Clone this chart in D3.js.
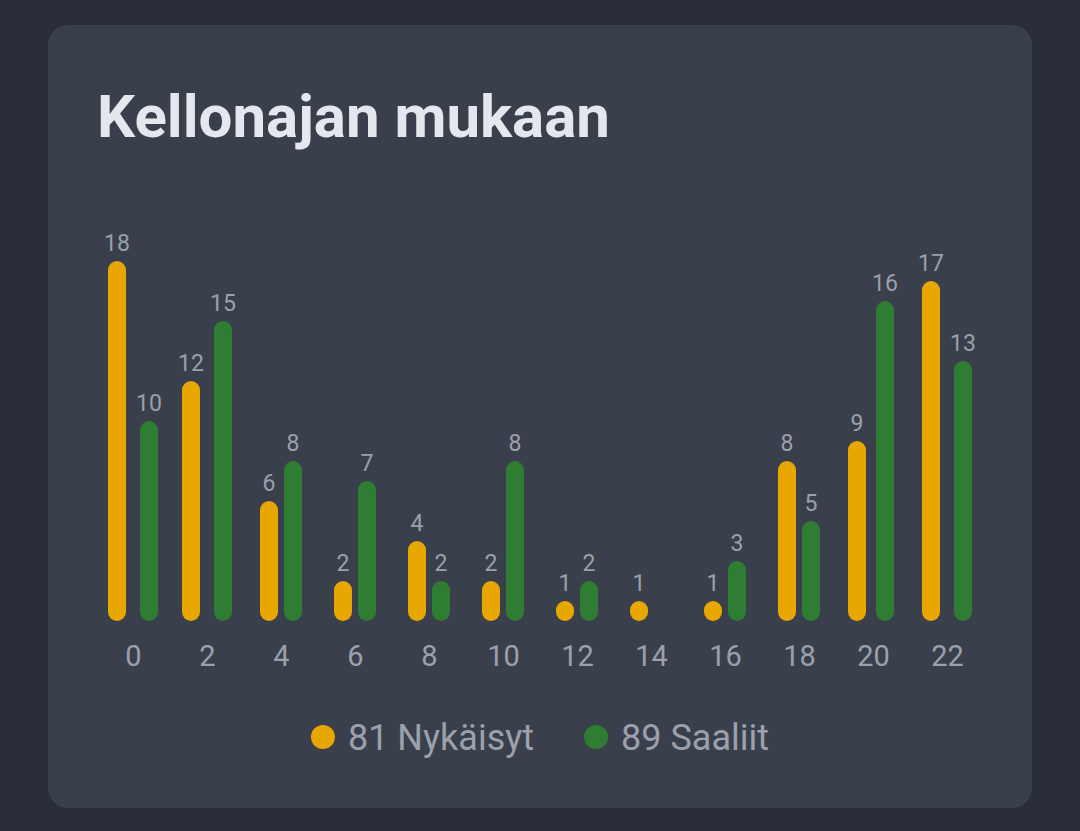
<!DOCTYPE html>
<html>
<head>
<meta charset="utf-8">
<script src="https://cdn.jsdelivr.net/npm/d3@7"></script>
<style>
  html, body { margin: 0; padding: 0; background: #2a2e39; }
  svg { display: block; font-family: Roboto, "Noto Sans", sans-serif; }
</style>
</head>
<body>
<div id="chart-area"></div>
<script>
var hours = [0, 2, 4, 6, 8, 10, 12, 14, 16, 18, 20, 22]
var nykaisyt = [18, 12, 6, 2, 4, 2, 1, 1, 1, 8, 9, 17]
var saaliit = [10, 15, 8, 7, 2, 8, 2, 0, 3, 5, 16, 13]
var seriesNames = ["Nykäisyt", "Saaliit"]
var seriesColors = ["#e8a600", "#2e7d32"]
var title = "Kellonajan mukaan"

var width = 1080
var height = 831
var barWidth = 18
var barGap = 6
var textColor = "#9aa0ac"

var svg = d3.select("#chart-area")
    .append("svg")
    .attr("width", width)
    .attr("height", height)

svg.append("rect")
    .attr("width", width)
    .attr("height", height)
    .attr("fill", "#2a2e39")

// card
svg.append("rect")
    .attr("x", 48)
    .attr("y", 25)
    .attr("width", 984)
    .attr("height", 783)
    .attr("rx", 20)
    .attr("fill", "#3a404b")

svg.append("text")
    .attr("x", 97)
    .attr("y", 137)
    .attr("fill", "#e4e7ee")
    .attr("font-size", 60)
    .attr("font-weight", 700)
    .text(title)

var convertToX = d3.scalePoint()
    .domain(hours)
    .range([133, 947])

var convertToY = d3.scaleLinear()
    .domain([0, 18])
    .range([621, 261])

// a column is as wide as its value label when that is wider than the bar
function colWidth(v) {
    return (v > 0 && String(v).length > 1) ? 26 : barWidth
}

var data = []
hours.forEach(function(h, i) {
    var w1 = colWidth(nykaisyt[i])
    var w2 = colWidth(saaliit[i])
    var total = w1 + barGap + w2
    var left = convertToX(h) - total / 2
    data.push({hour: h, value: nykaisyt[i], series: 0, cx: left + w1 / 2})
    data.push({hour: h, value: saaliit[i], series: 1, cx: left + w1 + barGap + w2 / 2})
})

var shown = data.filter(function(d) { return d.value > 0 })

svg.selectAll("rect.bar")
    .data(shown)
    .enter().append("rect")
    .attr("class", "bar")
    .attr("x", function(d) { return d.cx - barWidth / 2 })
    .attr("y", function(d) { return convertToY(d.value) })
    .attr("width", barWidth)
    .attr("height", function(d) { return Math.max(barWidth, convertToY(0) - convertToY(d.value)) })
    .attr("rx", barWidth / 2)
    .attr("fill", function(d) { return seriesColors[d.series] })

svg.selectAll("text.value")
    .data(shown)
    .enter().append("text")
    .attr("class", "value")
    .attr("x", function(d) { return d.cx })
    .attr("y", function(d) { return Math.min(convertToY(d.value), convertToY(0) - barWidth) - 10 })
    .attr("text-anchor", "middle")
    .attr("font-size", 23)
    .attr("fill", textColor)
    .text(function(d) { return d.value })

var xAxisCall = d3.axisBottom(convertToX).tickSize(0).tickPadding(0)

var xAxis = svg.append("g")
    .attr("transform", "translate(0,621)")
    .call(xAxisCall)

xAxis.select(".domain").remove()
xAxis.selectAll("text")
    .attr("y", 45)
    .attr("dy", 0)
    .attr("font-size", 29)
    .attr("font-family", "Roboto, sans-serif")
    .attr("fill", textColor)

// legend
var totals = [d3.sum(nykaisyt), d3.sum(saaliit)]
var legend = svg.append("g")
var lx = 0
seriesNames.forEach(function(name, i) {
    var item = legend.append("g").attr("transform", "translate(" + lx + ",0)")
    item.append("circle")
        .attr("cx", 12)
        .attr("cy", 737)
        .attr("r", 12)
        .attr("fill", seriesColors[i])
    var t = item.append("text")
        .attr("x", 37)
        .attr("y", 750)
        .attr("font-size", 36)
        .attr("fill", textColor)
        .text(totals[i] + " " + name)
    lx += 37 + t.node().getComputedTextLength() + 50
})
var legendWidth = lx - 50
legend.attr("transform", "translate(" + (540 - legendWidth / 2) + ",0)")
</script>
</body>
</html>
